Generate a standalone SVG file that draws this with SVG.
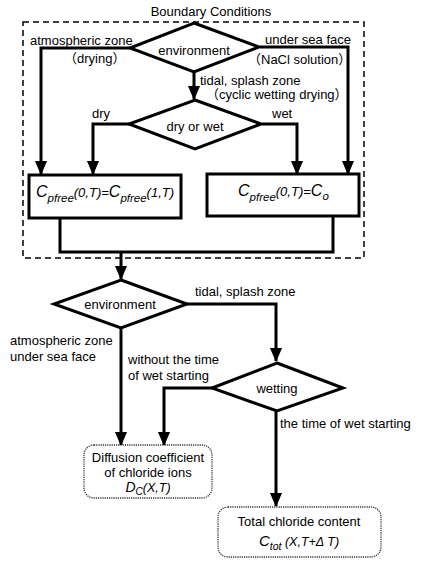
<svg xmlns="http://www.w3.org/2000/svg" width="421" height="565" viewBox="0 0 421 565">
<style>
text{font-family:"Liberation Sans","Noto Sans CJK SC",sans-serif;font-size:13px;fill:#000}
.c{text-anchor:middle}
.it{font-style:italic}
.sh{fill:none;stroke:#000;stroke-width:3;stroke-linejoin:miter}
.ln{fill:none;stroke:#000;stroke-width:3}
.dbox{fill:none;stroke:#000;stroke-width:1.5;stroke-dasharray:6 4}
.dot{fill:#fff;stroke:#333;stroke-width:1.3;stroke-dasharray:1.2 1}
</style>
<defs>
<marker id="a" markerUnits="userSpaceOnUse" markerWidth="14" markerHeight="16" refX="15" refY="7" orient="auto" viewBox="0 0 16 14">
<path d="M0,0 L16,7 L0,14 Z" fill="#000"/>
</marker>
</defs>
<text class="c" x="211" y="16">Boundary Conditions</text>
<rect id="boundary" class="dbox" x="23" y="22" width="341" height="236"/>
<g id="connectors">
<polyline class="ln" points="130,48 41,48 41,174" marker-end="url(#a)"/>
<polyline class="ln" points="260,47 348,47 348,174" marker-end="url(#a)"/>
<polyline class="ln" points="194,72 194,99" marker-end="url(#a)"/>
<polyline class="ln" points="129,124 93,124 93,174" marker-end="url(#a)"/>
<polyline class="ln" points="262,124 297,124 297,174" marker-end="url(#a)"/>
<polyline class="ln" points="60,218 60,252 333,252 333,216"/>
<polyline class="ln" points="121,252 121,279" marker-end="url(#a)"/>
<polyline class="ln" points="187,304 276,304 276,361" marker-end="url(#a)"/>
<polyline class="ln" points="121,328 121,445" marker-end="url(#a)"/>
<polyline class="ln" points="212,388 164,388 164,445" marker-end="url(#a)"/>
<polyline class="ln" points="276,411 276,506" marker-end="url(#a)"/>
</g>
<g id="env1">
<polygon class="sh" fill="#fff" points="194,23 259,47 194,72 130,48"/>
<text class="c" x="194" y="55">environment</text>
</g>
<text x="30" y="45">atmospheric zone</text>
<text x="64" y="63">（drying）</text>
<text x="265" y="44">under sea face</text>
<text x="248" y="64">（NaCl solution）</text>
<text x="200" y="85">tidal, splash zone</text>
<text x="206" y="99">（cyclic wetting drying）</text>
<g id="dryorwet">
<polygon class="sh" fill="#fff" points="195,100 261,124 195,149 129,124"/>
<text class="c" x="195" y="131">dry or wet</text>
</g>
<text x="92" y="118">dry</text>
<text x="272" y="118">wet</text>
<g id="box1">
<rect class="sh" fill="#fff" x="29" y="175" width="152" height="43"/>
<text class="it" x="36" y="197"><tspan font-size="16">C</tspan><tspan font-size="11.5" dy="5">pfree</tspan><tspan font-size="13" dy="-5">(0,T)=</tspan><tspan font-size="16">C</tspan><tspan font-size="11.5" dy="5">pfree</tspan><tspan font-size="13" dy="-5">(1,T)</tspan></text>
</g>
<g id="box2">
<rect class="sh" fill="#fff" x="207" y="174" width="152" height="42"/>
<text class="it" x="238" y="196"><tspan font-size="16">C</tspan><tspan font-size="11.5" dy="5">pfree</tspan><tspan font-size="13" dy="-5">(0,T)=</tspan><tspan font-size="16">C</tspan><tspan font-size="11.5" dy="4">o</tspan></text>
</g>
<g id="env2">
<polygon class="sh" fill="#fff" points="121,280 187,304 121,328 54,304"/>
<text class="c" x="120" y="309">environment</text>
</g>
<text x="195" y="296">tidal, splash zone</text>
<text x="10" y="345">atmospheric zone</text>
<text x="10" y="361">under sea face</text>
<text x="128" y="364">without the time</text>
<text x="128" y="380">of wet starting</text>
<g id="wetting">
<polygon class="sh" fill="#fff" points="277,363 343,388 277,411 212,388"/>
<text class="c" x="277" y="393">wetting</text>
</g>
<text x="280" y="428">the time of wet starting</text>
<g id="diffusion">
<rect class="dot" x="84" y="445" width="128" height="53" rx="10"/>
<text class="c" x="148" y="462">Diffusion coefficient</text>
<text class="c" x="148" y="477">of chloride ions</text>
<text class="c it" x="148" y="492"><tspan font-size="14">D</tspan><tspan font-size="10" dy="3">C</tspan><tspan font-size="12.5" dy="-3">(X,T)</tspan></text>
</g>
<g id="total">
<rect class="dot" x="218" y="507" width="163" height="50" rx="10"/>
<text class="c" x="299" y="526">Total chloride content</text>
<text class="c it" x="299" y="546"><tspan font-size="15">C</tspan><tspan font-size="10.5" dy="4">tot</tspan><tspan font-size="12.5" dy="-4"> (X,T+</tspan><tspan font-size="12.5">Δ</tspan><tspan font-size="12.5"> T)</tspan></text>
</g>
</svg>
